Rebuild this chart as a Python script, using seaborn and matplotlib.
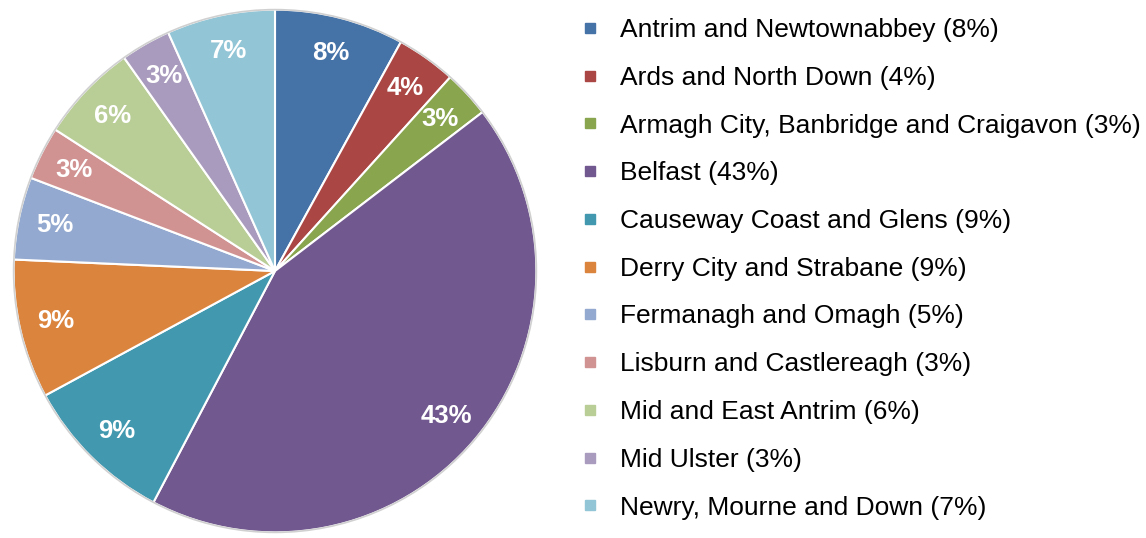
import matplotlib
matplotlib.use("Agg")
import matplotlib.pyplot as plt
from matplotlib.lines import Line2D
from matplotlib.patches import Circle
import seaborn as sns

COUNCILS = [
    "Antrim and Newtownabbey",
    "Ards and North Down",
    "Armagh City, Banbridge and Craigavon",
    "Belfast",
    "Causeway Coast and Glens",
    "Derry City and Strabane",
    "Fermanagh and Omagh",
    "Lisburn and Castlereagh",
    "Mid and East Antrim",
    "Mid Ulster",
    "Newry, Mourne and Down",
]
SHARES = [8.0, 3.7, 2.9, 43.1, 9.4, 8.6, 5.1, 3.3, 6.1, 3.1, 6.7]
COLOURS = [
    "#4572A7", "#AA4643", "#89A54E", "#71588F", "#4198AF", "#DB843D",
    "#93A9CF", "#D19392", "#B9CD96", "#A99BBD", "#92C5D6",
]

sns.set_theme(style="white")
plt.rcParams["font.family"] = ["Liberation Sans", "DejaVu Sans"]
plt.rcParams["text.color"] = "black"
palette = sns.color_palette(COLOURS)

fig = plt.figure(figsize=(11.46, 5.38), dpi=100)
ax = fig.add_axes([(275 - 264) / 1146, (538 - 271 - 264) / 538, 528 / 1146, 528 / 538])

wedges, texts, autotexts = ax.pie(
    SHARES,
    colors=palette,
    startangle=90,
    counterclock=False,
    autopct="%.0f%%",
    pctdistance=0.86,
    wedgeprops=dict(edgecolor="white", linewidth=1.5),
    textprops=dict(color="white", fontsize=18.5, fontweight="bold"),
)
ax.add_patch(Circle((0, 0), 1.0, fill=False, edgecolor="#d0d0d0", linewidth=1.2, zorder=5))
ax.set_xlim(-1.01, 1.01)
ax.set_ylim(-1.01, 1.01)
ax.set_aspect("equal")
ax.axis("off")

handles = [
    Line2D([], [], marker="s", linestyle="none", markersize=6.5, markerfacecolor=c, markeredgecolor=c)
    for c in palette
]
labels = [f"{name} ({share:.0f}%)" for name, share in zip(COUNCILS, SHARES)]
fig.legend(
    handles,
    labels,
    loc="upper left",
    bbox_to_anchor=(582 / 1146, 1 - 18 / 538),
    frameon=False,
    fontsize=19,
    labelcolor="black",
    handlelength=0.6,
    handletextpad=0.85,
    labelspacing=0.90,
    borderaxespad=0,
    borderpad=0,
)

fig.savefig("out.png", dpi=100)
